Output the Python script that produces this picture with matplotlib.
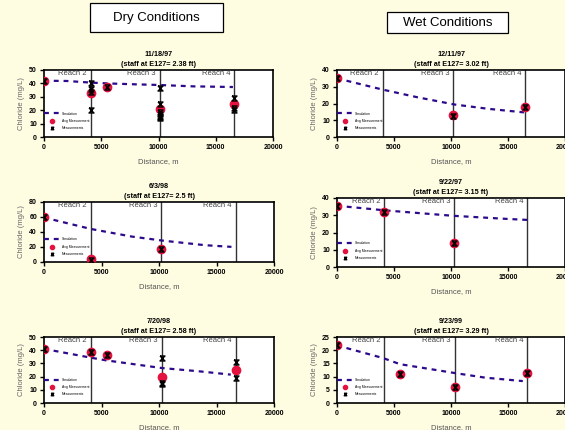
import matplotlib.pyplot as plt
from matplotlib.path import Path
from matplotlib.patches import Rectangle

plt.rcParams['font.family'] = ['Liberation Sans', 'DejaVu Sans']

# panel titles
dates = ["11/18/97", "12/11/97", "6/3/98", "9/22/97", "7/20/98", "9/23/99"]
staff = ["2.38", "3.02", "2.5", "3.15", "2.58", "3.29"]
ymax = [50, 40, 80, 40, 50, 25]
ystep = [10, 10, 20, 10, 10, 5]

# reach boundaries (m)
bounds = [
    [4080, 10130, 16600],
    [4000, 10200, 16500],
    [4090, 10190, 16660],
    [4150, 10300, 16700],
    [4100, 10230, 16680],
    [4150, 10350, 16700],
]

# simulation
sim_x = [
    [0, 2000, 4100, 5500, 8000, 10100, 13000, 16500],
    [0, 4000, 7000, 10300, 13300, 16400],
    [0, 4090, 7680, 10270, 14000, 16300],
    [0, 4260, 10150, 14850, 16700],
    [0, 4100, 5400, 10230, 13500, 16240],
    [0, 4060, 5530, 10400, 13000, 16300],
]
sim_y = [
    [42, 41.8, 40.6, 40, 39.3, 38.8, 37.8, 37.3],
    [35, 28.3, 23.8, 19.4, 16.8, 14.7],
    [59.3, 44.0, 33.8, 28.6, 22.4, 20.2],
    [35.5, 32.8, 29.7, 27.9, 27.3],
    [41, 34.3, 32.3, 26.5, 24, 21.5],
    [21.8, 17.0, 14.7, 11.3, 9.6, 8.3],
]

# average measurements
avg_x = [
    [0, 4080, 5500, 10130, 16600],
    [0, 10200, 16500],
    [0, 4090, 10190],
    [0, 4150, 10300],
    [0, 4100, 5500, 10230, 16680],
    [0, 5500, 10350, 16700],
]
avg_y = [
    [42, 32.5, 37, 20.7, 24.4],
    [35.5, 13, 18],
    [60, 3.5, 17.5],
    [35.5, 32, 14],
    [41, 39, 36.5, 19.5, 25],
    [22, 11.1, 6.2, 11.5],
]

# individual measurements
meas_x = [
    [0, 4080, 4080, 4080, 4080, 5500, 10130, 10130, 10130, 10130, 10130, 10130, 10130,
     16600, 16600, 16600],
    [0, 10200, 16500],
    [0, 4090, 10190],
    [0, 4150, 10300],
    [0, 4100, 5500, 10230, 10230, 10230, 16680, 16680],
    [0, 5500, 10350, 16700],
]
meas_y = [
    [42, 40, 35.6, 33.4, 20, 37, 36.8, 25, 19, 17, 16, 15, 14, 29.3, 21.6, 20],
    [35.5, 12.5, 18],
    [60, 3, 17.5],
    [35.5, 32, 14],
    [41, 39, 36.5, 34, 15.4, 14.2, 31.3, 18.7],
    [22, 11.1, 6.2, 11.5],
]

bg = '#FFFDE1'
sim_color = '#2D0A8C'
avg_color = '#E3123F'

# hourglass marker like the Excel "X" with bars
hourglass = Path([(-1, 1), (1, 1), (-1, -1), (1, -1), (-1, 1)],
                 [Path.MOVETO, Path.LINETO, Path.LINETO, Path.LINETO, Path.LINETO])

fig = plt.figure(figsize=(5.65, 4.3), dpi=100, facecolor=bg)

W, H = 565, 430
boxes = [  # left, top, right, bottom in px
    (44, 70, 273, 137), (337, 70, 565, 137),
    (44, 202, 274, 262), (337, 198, 565, 267),
    (44, 337, 274, 403), (337, 337, 565, 403),
]

for i in range(6):
    l, t, r, b = boxes[i]
    ax = fig.add_axes([l / W, 1 - b / H, (r - l) / W, (b - t) / H])
    ax.set_facecolor('white')
    ax.plot(sim_x[i], sim_y[i], color=sim_color, lw=1.6, dashes=(2.2, 2.2),
            label='Simulation', zorder=3)
    ax.plot(avg_x[i], avg_y[i], 'o', color=avg_color, ms=6, mec=avg_color,
            label='Avg Measurement', zorder=4)
    ax.plot(meas_x[i], meas_y[i], ls='none', marker=hourglass, ms=3.6, mfc='none',
            mec='black', mew=1.0, label='Measurements', zorder=5)
    for bx in bounds[i]:
        ax.axvline(bx, color='#333333', lw=1.0, zorder=2)
    for k, name in enumerate(['Reach 2', 'Reach 3', 'Reach 4']):
        ax.text(bounds[i][k] - 1600, ymax[i] * 0.995, name, ha='center', va='top',
                fontsize=5.5, color='#444444')
    ax.set_xlim(0, 20000)
    ax.set_ylim(0, ymax[i])
    ax.set_xticks(range(0, 20001, 5000))
    ax.set_yticks(range(0, ymax[i] + 1, ystep[i]))
    ax.tick_params(direction='out', length=3, width=1, labelsize=5, pad=2)
    for lab in ax.get_xticklabels() + ax.get_yticklabels():
        lab.set_fontweight('bold')
    for sp in ax.spines.values():
        sp.set_linewidth(1.2)
    ax.set_ylabel('Chloride (mg/L)', fontsize=5.5, color='#666666', labelpad=3)
    ax.set_xlabel('Distance, m', fontsize=5.5, color='#555555', labelpad=5)
    ax.set_title(dates[i] + '\n(staff at E127= ' + staff[i] + ' ft)', fontsize=5.2,
                 fontweight='bold', pad=3, linespacing=1.6)
    ax.legend(loc='lower left', bbox_to_anchor=(0, 0.1), frameon=False, fontsize=2.4,
              handlelength=5, handletextpad=0.4, borderpad=0, borderaxespad=0,
              labelspacing=1.0, markerscale=0.5)

# header boxes
for (x0, y0, x1, y1), txt in [((90, 3, 223, 32), 'Dry Conditions'),
                              ((387, 12, 508, 33), 'Wet Conditions')]:
    fig.patches.append(Rectangle((x0 / W, 1 - y1 / H), (x1 - x0) / W, (y1 - y0) / H,
                                 transform=fig.transFigure, facecolor='white',
                                 edgecolor='black', lw=0.9))
    fig.text((x0 + x1) / 2 / W, 1 - (y0 + y1) / 2 / H, txt, ha='center', va='center',
             fontsize=9.5)

fig.savefig('out.png', dpi=100, facecolor=bg)
